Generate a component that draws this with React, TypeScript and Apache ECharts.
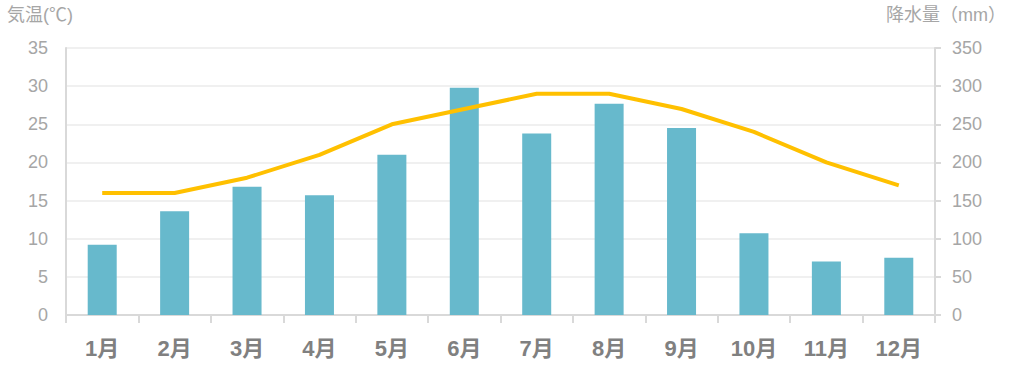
import React, { useEffect, useRef } from "react";
import * as echarts from "echarts";

const categories = ["1月", "2月", "3月", "4月", "5月", "6月", "7月", "8月", "9月", "10月", "11月", "12月"];
const precipitation = [92, 136, 168, 157, 210, 298, 238, 277, 245, 107, 70, 75];
const temperature = [16, 16, 18, 21, 25, 27, 29, 29, 27, 24, 20, 17];
const tempTicks = { min: 0, max: 35, interval: 5 };
const rainTicks = { min: 0, max: 350, interval: 50 };

const FONT = "'Liberation Sans', Arial, 'Noto Sans CJK JP', sans-serif";

export default function App() {
  const ref = useRef<HTMLDivElement>(null);
  useEffect(() => {
    if (!ref.current) return;
    const chart = echarts.init(ref.current, undefined, { renderer: "svg" });
    chart.setOption({
      animation: false,
      backgroundColor: "#ffffff",
      grid: { left: 66, right: 79, top: 48, bottom: 55, containLabel: false },
      graphic: [
        {
          type: "text",
          left: 7,
          top: 6,
          style: { text: "気温(℃)", fill: "#a6a6a6", font: `18px ${FONT}` },
        },
        {
          type: "text",
          right: 8,
          top: 6,
          style: { text: "降水量（mm）", fill: "#a6a6a6", font: `18px ${FONT}` },
        },
      ],
      xAxis: {
        type: "category",
        data: categories,
        axisLine: { lineStyle: { color: "#d9d9d9", width: 2 } },
        axisTick: { show: true, length: 8, lineStyle: { color: "#d9d9d9", width: 2 } },
        axisLabel: {
          color: "#808080",
          fontSize: 22,
          fontWeight: "bold",
          fontFamily: FONT,
          margin: 22,
        },
      },
      yAxis: [
        {
          type: "value",
          ...tempTicks,
          axisLine: { show: true, lineStyle: { color: "#d9d9d9", width: 2 } },
          axisTick: { show: false },
          splitLine: { lineStyle: { color: "#f0f0f0", width: 2 } },
          axisLabel: { color: "#a6a6a6", fontSize: 18, fontFamily: FONT, margin: 18 },
        },
        {
          type: "value",
          ...rainTicks,
          position: "right",
          axisLine: { show: true, lineStyle: { color: "#d9d9d9", width: 2 } },
          axisTick: { show: true, length: 6, lineStyle: { color: "#d9d9d9", width: 2 } },
          splitLine: { show: false },
          axisLabel: { color: "#a6a6a6", fontSize: 18, fontFamily: FONT, margin: 17 },
        },
      ],
      series: [
        {
          name: "降水量",
          type: "bar",
          yAxisIndex: 1,
          data: precipitation,
          barWidth: 29,
          itemStyle: { color: "#67b9cc" },
          z: 2,
        },
        {
          name: "気温",
          type: "line",
          yAxisIndex: 0,
          data: temperature,
          symbol: "none",
          lineStyle: { color: "#ffc000", width: 4 },
          itemStyle: { color: "#ffc000" },
          z: 3,
        },
      ],
    });
    return () => chart.dispose();
  }, []);
  return <div ref={ref} style={{ width: 1014, height: 370, position: "absolute", left: 0, top: 0 }} />;
}
